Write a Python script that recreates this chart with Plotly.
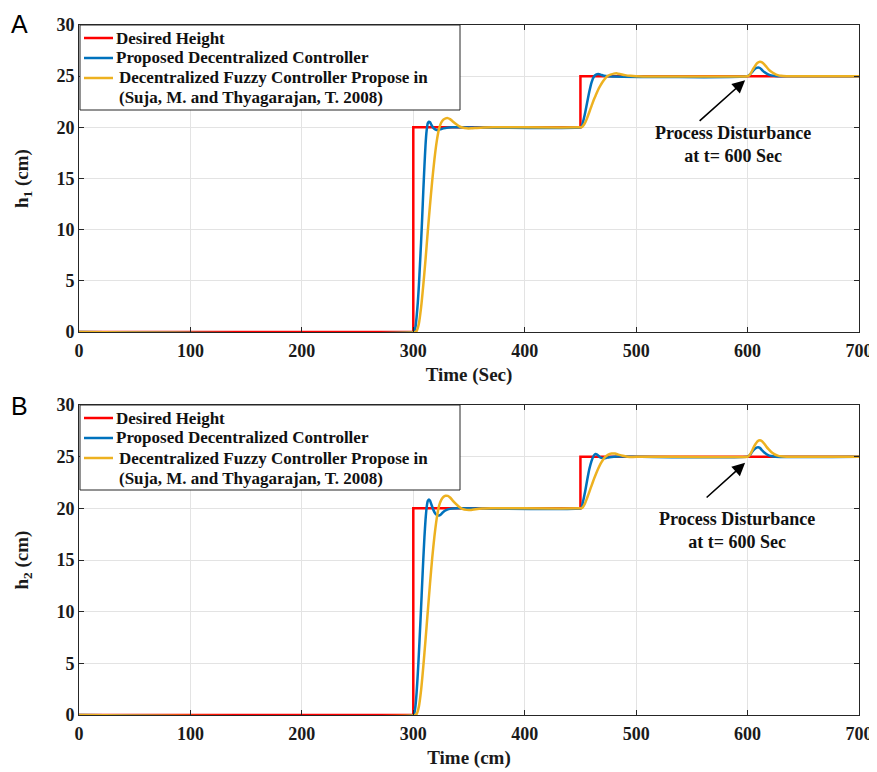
import plotly.graph_objects as go
from plotly.subplots import make_subplots

# ---------------- data ----------------
t_desired = [0, 300, 300, 450, 450, 700]
h_desired = [0, 0, 20, 20, 25, 25]

# Panel A (h1)
t_prop_A = [0, 300, 301, 302, 303, 304, 305, 306, 307, 308, 309, 310, 311, 312, 313, 314, 315, 316, 318, 320,
            322, 324, 327, 330, 335, 450, 451, 452, 454, 456, 458, 460, 462, 464, 466, 468, 471, 475, 600,
            602, 604, 606, 608, 609.5, 611, 613, 615, 618, 621, 625, 630, 700]
h_prop_A = [0, 0, 0.1, 0.5, 1.5, 2.8, 4.5, 6.6, 8.8, 11.2, 13.8, 16.2, 18.3, 19.7, 20.4, 20.55, 20.5, 20.3, 19.95, 19.78,
            19.74, 19.8, 19.9, 19.97, 20.0, 20.0, 20.1, 20.4, 21.3, 22.4, 23.5, 24.4, 24.95, 25.15, 25.2, 25.15, 25.05, 25.0, 25.0,
            25.15, 25.4, 25.65, 25.8, 25.85, 25.8, 25.6, 25.4, 25.2, 25.08, 25.02, 25.0, 25.0]

t_fuzzy_A = [0, 302, 303, 305, 307, 309, 311, 313, 315, 317, 319, 321, 323, 325, 327, 329, 331, 333, 335, 338,
             341, 344, 348, 352, 357, 363, 372, 450, 451, 452, 454, 456, 458, 460, 462, 464, 466, 468, 470, 472,
             474, 477, 480, 483, 486, 490, 495, 500, 600, 601, 603, 605, 607, 609, 611, 613, 615, 617, 619, 621,
             624, 627, 630, 635, 700]
h_fuzzy_A = [0, 0, 0.1, 0.8, 2.4, 4.6, 7.1, 9.8, 12.4, 14.8, 16.9, 18.6, 19.8, 20.45, 20.75, 20.88, 20.9, 20.8, 20.62, 20.35,
             20.12, 19.98, 19.9, 19.9, 19.94, 19.98, 20.0, 20.0, 20.02, 20.1, 20.4, 20.9, 21.5, 22.1, 22.7, 23.2, 23.7, 24.1, 24.45, 24.75,
             25.0, 25.15, 25.25, 25.27, 25.2, 25.1, 25.03, 25.0, 25.0, 25.05, 25.3, 25.7, 26.05, 26.3, 26.4, 26.35, 26.15, 25.9, 25.65, 25.45,
             25.25, 25.1, 25.03, 25.0, 25.0]

# Panel B (h2)
t_prop_B = [0, 300, 301, 302, 303, 304, 305, 306, 307, 308, 309, 310, 311, 312, 313, 314, 315, 316, 318, 320,
            322, 324, 326, 328, 331, 335, 340, 450, 451, 452, 454, 456, 458, 460, 462, 463.5, 465, 467, 469, 471,
            473, 476, 480, 600, 602, 604, 606, 608, 609.5, 611, 613, 615, 618, 621, 625, 700]
h_prop_B = [0, 0, 0.2, 0.9, 2.2, 3.9, 5.9, 8.1, 10.4, 12.8, 15.1, 17.2, 18.9, 20.1, 20.7, 20.85, 20.75, 20.45, 19.85, 19.45,
            19.3, 19.35, 19.55, 19.75, 19.9, 19.98, 20.0, 20.0, 20.1, 20.5, 21.5, 22.7, 23.8, 24.6, 25.1, 25.25, 25.2, 25.0, 24.88, 24.85,
            24.88, 24.95, 25.0, 25.0, 25.15, 25.45, 25.7, 25.88, 25.92, 25.85, 25.62, 25.4, 25.18, 25.06, 25.0, 25.0]

t_fuzzy_B = [0, 302, 303, 305, 307, 309, 311, 313, 315, 317, 319, 321, 323, 325, 327, 329, 331, 333, 335, 338,
             341, 344, 348, 352, 356, 362, 370, 450, 451, 452, 454, 456, 458, 460, 462, 464, 466, 468, 470, 472,
             475, 478, 481, 484, 488, 492, 497, 505, 600, 601, 603, 605, 607, 609, 611, 613, 615, 617, 619, 621,
             624, 627, 630, 635, 700]
h_fuzzy_B = [0, 0, 0.1, 0.8, 2.4, 4.7, 7.3, 10.0, 12.7, 15.2, 17.3, 19.0, 20.2, 20.8, 21.1, 21.22, 21.2, 21.05, 20.8, 20.45,
             20.15, 19.95, 19.85, 19.85, 19.92, 19.98, 20.0, 20.0, 20.02, 20.1, 20.45, 21.0, 21.6, 22.2, 22.8, 23.35, 23.85, 24.3, 24.65, 24.95,
             25.2, 25.3, 25.3, 25.2, 25.08, 25.0, 24.97, 25.0, 25.0, 25.05, 25.35, 25.8, 26.2, 26.5, 26.6, 26.5, 26.25, 25.95, 25.7, 25.48,
             25.25, 25.1, 25.03, 25.0, 25.0]

names = ["Desired Height", "Proposed Decentralized Controller",
         "Decentralized Fuzzy Controller Propose in", "(Suja, M. and Thyagarajan, T. 2008)"]
colors = ["#FF0000", "#0072BD", "#EDB120"]

x_ticks = [0, 100, 200, 300, 400, 500, 600, 700]
y_ticks = [0, 5, 10, 15, 20, 25, 30]

# ---------------- geometry (page has an 8px body margin) ----------------
OFF = 8
W, H = 877 - OFF, 772 - OFF
L, T, R, B = 79 - OFF, 25 - OFF, 18, 57
PW, PH = W - L - R, H - T - B


def px(xr):  # reference x pixel -> paper x
    return (xr - OFF - L) / PW


def py(yr):  # reference y pixel -> paper y
    return (H - B - (yr - OFF)) / PH


SERIF = "Liberation Serif"
fig = make_subplots(rows=2, cols=1, vertical_spacing=0.1)

panels = [
    (1, [(t_desired, h_desired), (t_prop_A, h_prop_A), (t_fuzzy_A, h_fuzzy_A)]),
    (2, [(t_desired, h_desired), (t_prop_B, h_prop_B), (t_fuzzy_B, h_fuzzy_B)]),
]
for row, series in panels:
    for i, (t, h) in enumerate(series):
        fig.add_trace(go.Scatter(
            x=t, y=h, mode="lines", name=names[i], showlegend=False,
            line=dict(color=colors[i], width=2.5,
                      shape="linear" if i == 0 else "spline", smoothing=0.6 if i else None),
        ), row=row, col=1)

axis_common = dict(
    showline=True, linecolor="#262626", linewidth=1, mirror="ticks",
    ticks="inside", ticklen=5, tickcolor="#262626", automargin=False,
    showgrid=True, gridcolor="#E3E3E3", gridwidth=1, zeroline=False,
    tickfont=dict(family=SERIF, size=18, color="#1a1a1a", weight="bold"),
)
for row in (1, 2):
    fig.update_xaxes(range=[0, 700], tickvals=x_ticks, row=row, col=1, ticklabelstandoff=2,
                     title=dict(text="Time (Sec)" if row == 1 else "Time (cm)",
                                font=dict(family=SERIF, size=19, color="#1a1a1a", weight="bold"),
                                standoff=8),
                     **axis_common)
    fig.update_yaxes(range=[0, 30], tickvals=y_ticks, row=row, col=1,
                     title=dict(text="h<sub>%d</sub> (cm)" % row,
                                font=dict(family=SERIF, size=19, color="#1a1a1a", weight="bold"),
                                standoff=22),
                     **axis_common)

fig.update_layout(yaxis=dict(domain=[py(332), 1.0]), yaxis2=dict(domain=[0.0, py(405)]))

fig.update_layout(
    width=W, height=H, showlegend=False,
    margin=dict(l=L, r=R, t=T, b=B, autoexpand=False),
    paper_bgcolor="white", plot_bgcolor="white",
)

# legends (drawn as boxes with swatches and text)
for top in (25, 405):
    fig.add_shape(type="rect", xref="paper", yref="paper", layer="above",
                  x0=px(80), x1=px(460), y0=py(top + 85), y1=py(top),
                  line=dict(color="#262626", width=1), fillcolor="white")
    for k in range(3):
        yrow = top + 13 + 20 * k
        fig.add_shape(type="line", xref="paper", yref="paper", layer="above",
                      x0=px(84), x1=px(113), y0=py(yrow), y1=py(yrow),
                      line=dict(color=colors[k], width=2.5))
    for k in range(4):
        yrow = top + 13 + 20 * k
        fig.add_annotation(text=names[k], xref="paper", yref="paper",
                           x=px(114 if k < 2 else 117), y=py(yrow), xanchor="left", yanchor="middle",
                           showarrow=False,
                           font=dict(family=SERIF, size=17, color="#111111", weight="bold"))

# panel letters
for txt, ypx in (("A", 24), ("B", 406)):
    fig.add_annotation(text=txt, xref="paper", yref="paper", x=px(10), xanchor="left",
                       y=py(ypx), yanchor="middle", showarrow=False, borderpad=0,
                       font=dict(family="Liberation Sans", size=25, color="black"))

# disturbance annotations
for xr, yr, tx, ty, hx, hy, ax, ay in (("x", "y", 586.5, 18.3, 597.8, 24.6, -47, 42),
                                       ("x2", "y2", 590.7, 17.9, 597.8, 24.4, -40, 36)):
    fig.add_annotation(text="Process Disturbance<br>at t= 600 Sec", xref=xr, yref=yr, x=tx, y=ty,
                       showarrow=False, align="center",
                       font=dict(family=SERIF, size=18, color="#111111", weight="bold"))
    fig.add_annotation(text="", xref=xr, yref=yr, x=hx, y=hy, ax=ax, ay=ay,
                       showarrow=True, arrowhead=2, arrowsize=1.6, arrowwidth=1.6, arrowcolor="black",
                       font=dict(size=1))

fig.write_html("out.html")
